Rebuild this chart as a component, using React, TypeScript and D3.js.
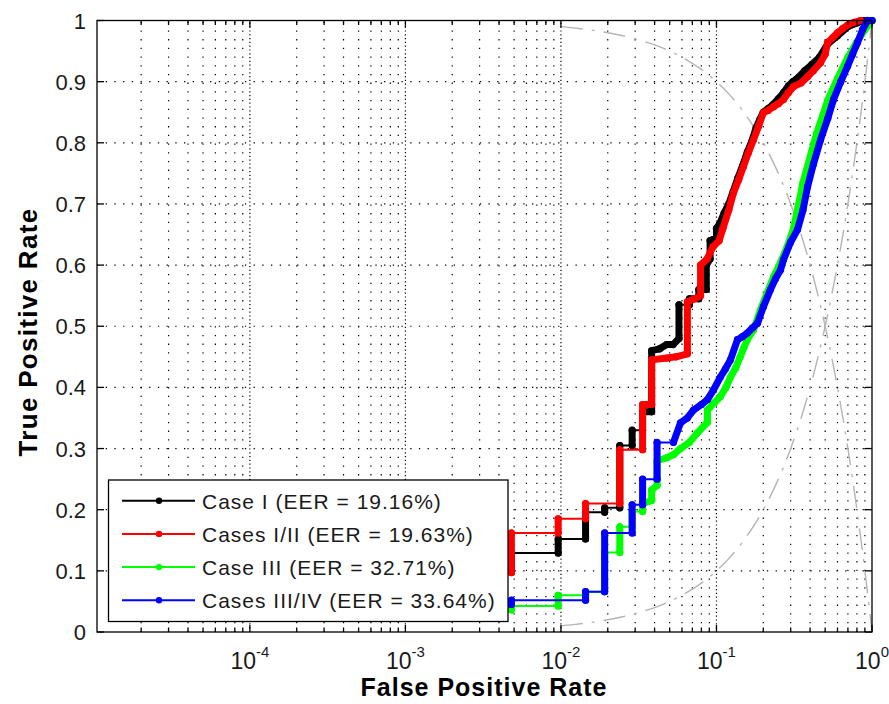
import * as d3 from "d3";
import { useEffect, useRef } from "react";

const width = 889;
const height = 704;

// ROC points (false positive rate, true positive rate)
const caseIFpr = [0.0048, 0.0048, 0.0096, 0.0096, 0.0144, 0.0144, 0.0191, 0.0191, 0.0239, 0.0239, 0.0287, 0.0287, 0.0335, 0.0335, 0.0383, 0.0383, 0.043, 0.0478, 0.0526, 0.0574, 0.0574, 0.067, 0.067, 0.077, 0.077, 0.086, 0.086, 0.091, 0.091, 0.1, 0.1, 0.105, 0.112, 0.12, 0.128, 0.137, 0.147, 0.158, 0.17, 0.18, 0.19, 0.2, 0.215, 0.23, 0.25, 0.27, 0.29, 0.31, 0.34, 0.37, 0.41, 0.46, 0.52, 0.6, 0.7, 0.8, 0.9, 1];
const caseITpr = [0.098, 0.129, 0.129, 0.152, 0.152, 0.196, 0.196, 0.203, 0.203, 0.305, 0.305, 0.33, 0.33, 0.36, 0.36, 0.46, 0.463, 0.47, 0.47, 0.48, 0.535, 0.535, 0.545, 0.545, 0.56, 0.56, 0.6, 0.61, 0.64, 0.645, 0.66, 0.668, 0.685, 0.7, 0.72, 0.742, 0.762, 0.785, 0.805, 0.825, 0.838, 0.85, 0.856, 0.862, 0.872, 0.882, 0.893, 0.9, 0.908, 0.918, 0.928, 0.94, 0.962, 0.975, 0.99, 0.996, 1, 1];

const casesIIIFpr = [0.0048, 0.0048, 0.0096, 0.0096, 0.0144, 0.0144, 0.0239, 0.0239, 0.0335, 0.0335, 0.0383, 0.0383, 0.048, 0.055, 0.065, 0.065, 0.0726, 0.079, 0.079, 0.087, 0.095, 0.104, 0.11, 0.12, 0.1286, 0.139, 0.149, 0.16, 0.173, 0.187, 0.2, 0.215, 0.233, 0.25, 0.27, 0.29, 0.313, 0.35, 0.385, 0.42, 0.467, 0.5, 0.518, 0.56, 0.6, 0.65, 0.7, 0.77, 0.844, 1];
const casesIIITpr = [0.097, 0.162, 0.162, 0.185, 0.185, 0.21, 0.21, 0.298, 0.298, 0.372, 0.372, 0.445, 0.448, 0.45, 0.455, 0.54, 0.545, 0.55, 0.6, 0.61, 0.63, 0.64, 0.66, 0.69, 0.718, 0.74, 0.761, 0.783, 0.805, 0.828, 0.849, 0.853, 0.859, 0.864, 0.871, 0.882, 0.892, 0.898, 0.908, 0.918, 0.931, 0.945, 0.964, 0.972, 0.98, 0.987, 0.993, 0.997, 1, 1];

const caseIIIFpr = [0.0048, 0.0048, 0.0096, 0.0096, 0.0144, 0.0144, 0.0191, 0.0191, 0.0239, 0.0239, 0.0287, 0.0287, 0.0335, 0.0335, 0.0383, 0.0383, 0.0415, 0.0415, 0.048, 0.053, 0.0587, 0.067, 0.075, 0.0875, 0.0875, 0.097, 0.106, 0.115, 0.123, 0.133, 0.142, 0.15, 0.158, 0.173, 0.192, 0.212, 0.233, 0.258, 0.285, 0.313, 0.36, 0.44, 0.52, 0.6, 0.7, 0.8, 0.9, 1];
const caseIIITpr = [0.036, 0.0425, 0.0425, 0.06, 0.06, 0.066, 0.066, 0.13, 0.13, 0.172, 0.172, 0.197, 0.197, 0.21, 0.215, 0.232, 0.24, 0.28, 0.285, 0.29, 0.3, 0.31, 0.325, 0.343, 0.363, 0.375, 0.385, 0.4, 0.417, 0.432, 0.45, 0.465, 0.478, 0.494, 0.527, 0.555, 0.581, 0.604, 0.63, 0.66, 0.735, 0.815, 0.87, 0.905, 0.94, 0.965, 0.985, 1];

const casesIIIIVFpr = [0.0048, 0.0048, 0.0144, 0.0144, 0.0191, 0.0191, 0.0287, 0.0287, 0.0335, 0.0335, 0.0415, 0.0415, 0.0529, 0.0587, 0.065, 0.0711, 0.08, 0.0875, 0.0957, 0.106, 0.114, 0.123, 0.1365, 0.147, 0.158, 0.17, 0.1836, 0.2005, 0.2224, 0.24, 0.258, 0.27, 0.299, 0.332, 0.36, 0.385, 0.42, 0.467, 0.52, 0.566, 0.63, 0.696, 0.75, 0.807, 0.87, 0.936, 1];
const casesIIIIVTpr = [0.045, 0.052, 0.052, 0.066, 0.066, 0.162, 0.162, 0.208, 0.208, 0.25, 0.25, 0.31, 0.31, 0.342, 0.35, 0.363, 0.372, 0.38, 0.396, 0.417, 0.43, 0.445, 0.478, 0.483, 0.489, 0.497, 0.505, 0.532, 0.56, 0.578, 0.592, 0.609, 0.637, 0.658, 0.69, 0.728, 0.765, 0.805, 0.84, 0.871, 0.9, 0.925, 0.945, 0.964, 0.985, 1, 1];

const seriesLabels = ["Case I (EER = 19.16%)", "Cases I/II (EER = 19.63%)", "Case III (EER = 32.71%)", "Cases III/IV (EER = 33.64%)"];
const seriesColors = ["#000000", "#ff0000", "#00ff00", "#0000ff"];

const yTicks = [0, 0.1, 0.2, 0.3, 0.4, 0.5, 0.6, 0.7, 0.8, 0.9, 1];
const yTickLabels = ["0", "0.1", "0.2", "0.3", "0.4", "0.5", "0.6", "0.7", "0.8", "0.9", "1"];
const xMajorTicks = [1e-4, 1e-3, 1e-2, 1e-1, 1];
const xTickExponents = ["-4", "-3", "-2", "-1", "0"];

// sample positions for the chance (y = x) and EER (y = 1 - x) guides
const guideFpr = [0.01, 0.012, 0.015, 0.02, 0.025, 0.03, 0.04, 0.05, 0.06, 0.08, 0.1, 0.12, 0.15, 0.2, 0.25, 0.3, 0.35, 0.4, 0.45, 0.5, 0.55, 0.6, 0.65, 0.7, 0.75, 0.8, 0.85, 0.9, 0.93, 0.96, 0.98, 1];

const font = "'Liberation Sans', Arial, sans-serif";

const App = () => {
  const svgRef = useRef<SVGSVGElement>(null);

  useEffect(() => {
    const svg = d3.select(svgRef.current);
    svg.selectAll("*").remove();

    const left = 97, right = 872, top = 20.5, bottom = 632;
    const x = d3.scaleLog().domain([1.04e-5, 1]).range([left, right]);
    const y = d3.scaleLinear().domain([0, 1]).range([bottom, top]);

    const minorTicks: number[] = [];
    for (let e = -5; e <= -1; e++) {
      for (let m = 2; m <= 9; m++) {
        const v = m * Math.pow(10, e);
        if (v >= x.domain()[0] && v <= 1) minorTicks.push(v);
      }
    }

    // grid
    const grid = svg.append("g").attr("stroke", "#000").attr("stroke-width", 1.2);
    grid.selectAll("line.minor")
      .data(minorTicks)
      .join("line")
      .attr("x1", (d) => x(d)).attr("x2", (d) => x(d))
      .attr("y1", bottom).attr("y2", top)
      .attr("stroke-dasharray", "1.3,7.4");
    grid.selectAll("line.major")
      .data(xMajorTicks.slice(0, -1))
      .join("line")
      .attr("x1", (d) => x(d)).attr("x2", (d) => x(d))
      .attr("y1", bottom).attr("y2", top)
      .attr("stroke-dasharray", "1.2,2.6");
    grid.selectAll("line.h")
      .data(yTicks.slice(1, -1))
      .join("line")
      .attr("x1", left).attr("x2", right)
      .attr("y1", (d) => y(d)).attr("y2", (d) => y(d))
      .attr("stroke-dasharray", "1.3,7.4");

    // guide curves
    const guideLine = d3.line<number[]>().x((d) => x(d[0])).y((d) => y(d[1])).curve(d3.curveMonotoneX);
    [guideFpr.map((f) => [f, f]), guideFpr.map((f) => [f, 1 - f])].forEach((pts) => {
      svg.append("path")
        .attr("d", guideLine(pts))
        .attr("fill", "none")
        .attr("stroke", "#b4b4b4")
        .attr("stroke-width", 1.4)
        .attr("stroke-dasharray", "22,9,3,9");
    });

    // ROC curves
    const fprs = [caseIFpr, casesIIIFpr, caseIIIFpr, casesIIIIVFpr];
    const tprs = [caseITpr, casesIIITpr, caseIIITpr, casesIIIIVTpr];
    const line = d3.line<number[]>().x((d) => d[0]).y((d) => d[1]);

    fprs.forEach((fpr, s) => {
      const pts = fpr.map((f, i) => [x(f), y(tprs[s][i])]);
      const color = seriesColors[s];
      const g = svg.append("g");
      g.append("path")
        .attr("d", line(pts))
        .attr("fill", "none")
        .attr("stroke", color)
        .attr("stroke-width", 2);
      // stacked markers on rising runs look like a thick band
      const band = d3.path();
      for (let i = 1; i < pts.length; i++) {
        const [x0, y0] = pts[i - 1];
        const [x1, y1] = pts[i];
        if (Math.abs(y1 - y0) > 0.5 || Math.abs(x1 - x0) < 10) {
          band.moveTo(x0, y0);
          band.lineTo(x1, y1);
        }
      }
      g.append("path")
        .attr("d", band.toString())
        .attr("fill", "none")
        .attr("stroke", color)
        .attr("stroke-width", 7)
        .attr("stroke-linecap", "round")
        .attr("stroke-linejoin", "round");
      g.selectAll("circle")
        .data(pts)
        .join("circle")
        .attr("cx", (d) => d[0])
        .attr("cy", (d) => d[1])
        .attr("r", 3.6)
        .attr("fill", color);
    });

    // axes box and ticks
    const axes = svg.append("g").attr("stroke", "#000").attr("stroke-width", 1.3);
    axes.append("rect")
      .attr("x", left).attr("y", top)
      .attr("width", right - left).attr("height", bottom - top)
      .attr("fill", "none");
    const xTickSet = [...xMajorTicks.map((v) => ({ v, len: 7 })), ...minorTicks.map((v) => ({ v, len: 4.5 }))];
    xTickSet.forEach(({ v, len }) => {
      axes.append("line").attr("x1", x(v)).attr("x2", x(v)).attr("y1", bottom).attr("y2", bottom - len);
      axes.append("line").attr("x1", x(v)).attr("x2", x(v)).attr("y1", top).attr("y2", top + len);
    });
    yTicks.forEach((v) => {
      axes.append("line").attr("x1", left).attr("x2", left + 7).attr("y1", y(v)).attr("y2", y(v));
      axes.append("line").attr("x1", right).attr("x2", right - 7).attr("y1", y(v)).attr("y2", y(v));
    });

    // tick labels
    svg.append("g")
      .selectAll("text")
      .data(yTicks)
      .join("text")
      .attr("x", 86)
      .attr("y", (d) => y(d) + 8)
      .attr("text-anchor", "end")
      .attr("font-family", font)
      .attr("font-size", 22)
      .attr("fill", "#1a1a1a")
      .text((d, i) => yTickLabels[i]);

    const xl = svg.append("g")
      .selectAll("text")
      .data(xMajorTicks)
      .join("text")
      .attr("x", (d) => x(d))
      .attr("y", 669)
      .attr("text-anchor", "middle")
      .attr("font-family", font)
      .attr("fill", "#1a1a1a");
    xl.append("tspan").attr("font-size", 23).text("10");
    xl.append("tspan").attr("font-size", 15).attr("dy", -12).text((d, i) => xTickExponents[i]);

    // axis titles
    svg.append("text")
      .attr("x", 484)
      .attr("y", 696)
      .attr("text-anchor", "middle")
      .attr("font-family", font)
      .attr("font-weight", "bold")
      .attr("font-size", 25)
      .attr("letter-spacing", 1)
      .text("False Positive Rate");
    svg.append("text")
      .attr("transform", "translate(37,332) rotate(-90)")
      .attr("text-anchor", "middle")
      .attr("font-family", font)
      .attr("font-weight", "bold")
      .attr("font-size", 26)
      .attr("letter-spacing", 1.3)
      .text("True Positive Rate");

    // legend
    const lg = svg.append("g");
    lg.append("rect")
      .attr("x", 108.5).attr("y", 480)
      .attr("width", 399.5).attr("height", 141.5)
      .attr("fill", "#fff")
      .attr("stroke", "#000")
      .attr("stroke-width", 1.3);
    seriesLabels.forEach((label, i) => {
      const cy = 500.7 + i * 33.2;
      lg.append("line")
        .attr("x1", 122).attr("x2", 195)
        .attr("y1", cy).attr("y2", cy)
        .attr("stroke", seriesColors[i])
        .attr("stroke-width", 2);
      lg.append("circle")
        .attr("cx", 159).attr("cy", cy).attr("r", 3.2)
        .attr("fill", seriesColors[i]);
      lg.append("text")
        .attr("x", 202).attr("y", cy + 8)
        .attr("font-family", font)
        .attr("font-size", 21)
        .attr("letter-spacing", 1)
        .attr("fill", "#1a1a1a")
        .text(label);
    });
  }, []);

  return (
    <svg
      ref={svgRef}
      width={width}
      height={height}
      style={{ position: "absolute", left: 0, top: 0, background: "#fff" }}
    />
  );
};

export default App;
